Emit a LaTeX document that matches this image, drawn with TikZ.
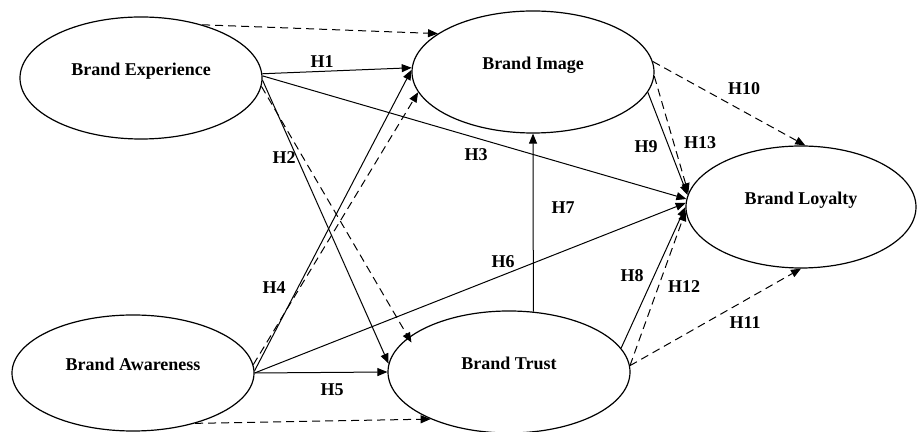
\documentclass[tikz,border=0pt]{standalone}
\usepackage{fontspec}
\setmainfont{Liberation Serif}
\usetikzlibrary{arrows.meta, shapes.geometric}
\tikzset{
    construct/.style={draw, ellipse, line width=0.6pt, minimum width=121pt, minimum height=61pt,
        text height=6pt, text depth=8pt, font=\fontsize{9}{10}\selectfont\bfseries},
    hyp/.style={inner sep=0pt, font=\fontsize{9}{10}\selectfont\bfseries},
    direct/.style={line width=0.5pt, -{Triangle[length=5pt,width=4pt]}},
    indirect/.style={direct, dash pattern=on 4pt off 2.5pt}
}

\begin{document}
\begin{tikzpicture}[x=0.5pt, y=-0.5pt]
    \useasboundingbox (0,0) rectangle (917,432);
    % constructs
    \node[construct] (exp) at (141,78) {Brand Experience};
    \node[construct] (img) at (533,72) {Brand Image};
    \node[construct, minimum width=115pt] (loy) at (801,207) {Brand Loyalty};
    \node[construct, minimum height=58pt] (awa) at (133,373) {Brand Awareness};
    \node[construct] (tru) at (509,372) {Brand Trust};
    % direct effects
    \draw[direct] (exp.2) -- (img.178);
    \draw[direct] (exp.1) -- (loy.176);
    \draw[direct] (exp.-1) -- (tru.176);
    \draw[direct] (awa.1) -- (img.179);
    \draw[direct] (awa.0) -- (tru.180);
    \draw[direct] (awa.0) -- (loy.178);
    \draw[direct] (tru.68) -- (img.270);
    \draw[direct] (tru.12) -- (loy.180);
    \draw[direct] (img.-10) -- (loy.174);
    % indirect effects
    \draw[indirect] (exp.41) -- (img.158);
    \draw[indirect, shorten >=-3pt] (exp.-4) -- (tru.161);
    \draw[indirect] (awa.4) -- (img.190);
    \draw[indirect] (awa.-39) -- (tru.211);
    \draw[indirect] (img.5) -- (loy.86);
    \draw[indirect] (img.-2) -- (loy.173);
    \draw[indirect] (tru.3) -- (loy.182);
    \draw[indirect] (tru.3) -- (loy.270);
    % hypotheses
    \node[hyp] (h1) at (322,62) {H1};
    \node[hyp] (h2) at (284,158) {H2};
    \node[hyp] (h3) at (476,155) {H3};
    \node[hyp] (h4) at (274,288) {H4};
    \node[hyp] (h5) at (332,390) {H5};
    \node[hyp] (h6) at (503,262) {H6};
    \node[hyp] (h7) at (563,208) {H7};
    \node[hyp] (h8) at (632,276) {H8};
    \node[hyp] (h9) at (646,147) {H9};
    \node[hyp] (h10) at (744,89) {H10};
    \node[hyp] (h11) at (745,323) {H11};
    \node[hyp] (h12) at (684,287) {H12};
    \node[hyp] (h13) at (700,143) {H13};
\end{tikzpicture}
\end{document}
